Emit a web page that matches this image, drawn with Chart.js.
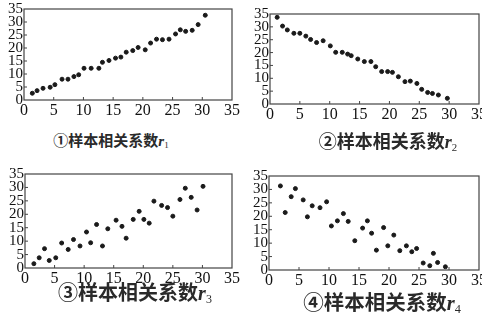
<!DOCTYPE html>
<html>
<head>
<meta charset="utf-8">
<script src="https://cdn.jsdelivr.net/npm/chart.js@4.4.1/dist/chart.umd.min.js"></script>
<style>
  html, body { margin: 0; padding: 0; background: #fff; width: 482px; height: 318px; overflow: hidden; }
  canvas { position: absolute; }
  .cap { position: absolute; white-space: nowrap; color: #2a2a2a; font-family: "Noto Sans CJK SC", sans-serif; font-weight: bold; transform: translate(-50%, -50%); line-height: 1; }
  .cap i { font-family: "Liberation Serif", serif; font-weight: bold; }
  .cap sub { font-family: "Liberation Serif", serif; font-weight: normal; font-size: 0.6em; vertical-align: -0.25em; }
</style>
</head>
<body>
<canvas id="c1"></canvas>
<canvas id="c2"></canvas>
<canvas id="c3"></canvas>
<canvas id="c4"></canvas>
<div class="cap" style="left:111px; top:141px; font-size:15px;">①样本相关系数<i>r</i><sub>1</sub></div>
<div class="cap" style="left:388px; top:142px; font-size:18px;">②样本相关系数<i>r</i><sub>2</sub></div>
<div class="cap" style="left:135px; top:293px; font-size:20px;">③样本相关系数<i>r</i><sub>3</sub></div>
<div class="cap" style="left:382px; top:303px; font-size:20.5px;">④样本相关系数<i>r</i><sub>4</sub></div>
<script>
// tick values shared by both axes of every panel
const tickVals = [0, 5, 10, 15, 20, 25, 30, 35];

// ① strong positive
const x1 = [1.4, 2.2, 3.2, 4.4, 5.2, 6.4, 7.4, 8.4, 9.2, 10.1, 11.3, 12.6, 13.2, 14.3, 15.4, 16.3, 17.2, 18.3, 19.2, 20.4, 21.3, 22.3, 23.3, 24.4, 25.5, 26.3, 27.2, 28.3, 29.3, 30.5];
const y1 = [2.6, 3.6, 4.5, 4.9, 5.9, 8.0, 8.0, 9.0, 9.7, 12.2, 12.2, 12.2, 14.5, 15.2, 16.1, 16.5, 18.4, 19.0, 20.2, 19.3, 21.9, 23.4, 23.2, 23.4, 25.4, 27.0, 26.4, 26.8, 29.0, 32.6];

// ② strong negative
const x2 = [1.2, 2.1, 2.9, 4.0, 5.0, 6.0, 6.8, 7.8, 8.9, 10.1, 11.0, 12.1, 13.0, 13.6, 14.7, 15.8, 16.9, 17.7, 18.7, 19.7, 20.5, 21.5, 22.6, 23.5, 24.6, 25.4, 26.4, 27.2, 28.2, 29.7];
const y2 = [33.7, 30.3, 28.8, 27.5, 27.5, 26.4, 25.1, 23.9, 24.6, 22.6, 20.1, 20.1, 19.4, 18.8, 17.5, 16.5, 16.5, 14.5, 12.6, 12.6, 12.3, 10.6, 8.7, 8.9, 8.0, 5.7, 4.5, 4.1, 3.5, 2.2];

// ③ weaker positive
const x3 = [1.5, 2.4, 3.3, 4.1, 5.2, 6.2, 7.3, 8.2, 9.3, 10.4, 11.1, 12.1, 13.1, 14.0, 15.4, 16.4, 17.1, 18.3, 19.3, 20.1, 21.0, 21.8, 23.1, 24.1, 25.0, 26.2, 27.1, 28.1, 29.1, 30.1];
const y3 = [1.6, 3.8, 7.2, 2.8, 3.8, 9.3, 6.9, 10.6, 8.2, 13.4, 9.4, 16.2, 8.2, 14.6, 17.8, 15.5, 11.1, 18.1, 21.1, 18.1, 16.7, 24.9, 23.3, 22.5, 19.3, 25.5, 29.7, 26.3, 21.6, 30.4];

// ④ weaker negative
const x4 = [1.9, 2.7, 3.7, 4.4, 5.7, 6.4, 7.2, 8.5, 9.6, 10.4, 11.4, 12.4, 13.2, 14.3, 15.6, 16.4, 17.1, 17.9, 19.1, 19.8, 20.8, 21.8, 22.9, 23.8, 24.6, 25.7, 26.8, 27.4, 28.1, 29.4];
const y4 = [31.3, 21.4, 27.3, 30.3, 26.1, 19.8, 23.9, 23.2, 25.4, 16.4, 18.3, 21.0, 18.1, 10.9, 15.6, 18.3, 13.7, 7.4, 15.8, 9.0, 13.0, 7.2, 9.0, 6.8, 8.0, 2.6, 1.6, 6.2, 2.8, 1.2];

// frame around the plot area plus short inward ticks
const framePlugin = {
  id: 'frame',
  afterDraw(chart) {
    const { ctx, chartArea: a, scales } = chart;
    ctx.save();
    ctx.strokeStyle = '#444';
    ctx.lineWidth = 1.2;
    ctx.strokeRect(a.left, a.top, a.right - a.left, a.bottom - a.top);
    ctx.lineWidth = 1;
    ctx.beginPath();
    tickVals.slice(1, -1).forEach(v => {
      const px = scales.x.getPixelForValue(v);
      ctx.moveTo(px, a.bottom);
      ctx.lineTo(px, a.bottom - 3);
      const py = scales.y.getPixelForValue(v);
      ctx.moveTo(a.left, py);
      ctx.lineTo(a.left + 3, py);
    });
    ctx.stroke();
    ctx.restore();
  }
};

function makePanel(id, xs, ys, area) {
  const padL = 30, padT = 10, padR = 15, padB = 20;
  const w = area.right - area.left, h = area.bottom - area.top;
  const el = document.getElementById(id);
  el.style.left = (area.left - padL) + 'px';
  el.style.top = (area.top - padT) + 'px';
  el.style.width = (w + padL + padR) + 'px';
  el.style.height = (h + padT + padB) + 'px';
  el.width = w + padL + padR;
  el.height = h + padT + padB;

  const axis = (fontSize, pad, fitProp, fitVal) => ({
    type: 'linear',
    min: 0,
    max: 35,
    grid: { display: false, drawTicks: false },
    border: { display: false },
    afterBuildTicks: s => { s.ticks = tickVals.map(v => ({ value: v })); },
    afterFit: s => { s[fitProp] = fitVal; },
    ticks: {
      autoSkip: false,
      maxRotation: 0,
      padding: pad,
      color: '#111',
      font: { family: 'Liberation Serif', size: fontSize }
    }
  });

  new Chart(el, {
    type: 'scatter',
    data: {
      datasets: [{
        data: xs.map((x, i) => ({ x: x, y: ys[i] })),
        backgroundColor: '#1a1a1a',
        borderColor: '#1a1a1a',
        pointRadius: 2,
        pointHoverRadius: 2
      }]
    },
    options: {
      responsive: false,
      animation: false,
      layout: { padding: { top: padT, right: padR, left: 0, bottom: 0 } },
      plugins: { legend: { display: false }, tooltip: { enabled: false } },
      scales: {
        x: axis(16, 1, 'height', padB),
        y: axis(15, 1, 'width', padL)
      }
    },
    plugins: [framePlugin]
  });
}

makePanel('c1', x1, y1, { left: 24, top: 9, right: 232, bottom: 100 });
makePanel('c2', x2, y2, { left: 270, top: 14, right: 479, bottom: 104 });
makePanel('c3', x3, y3, { left: 25, top: 174, right: 232, bottom: 268 });
makePanel('c4', x4, y4, { left: 269, top: 176, right: 479, bottom: 270 });
</script>
</body>
</html>
